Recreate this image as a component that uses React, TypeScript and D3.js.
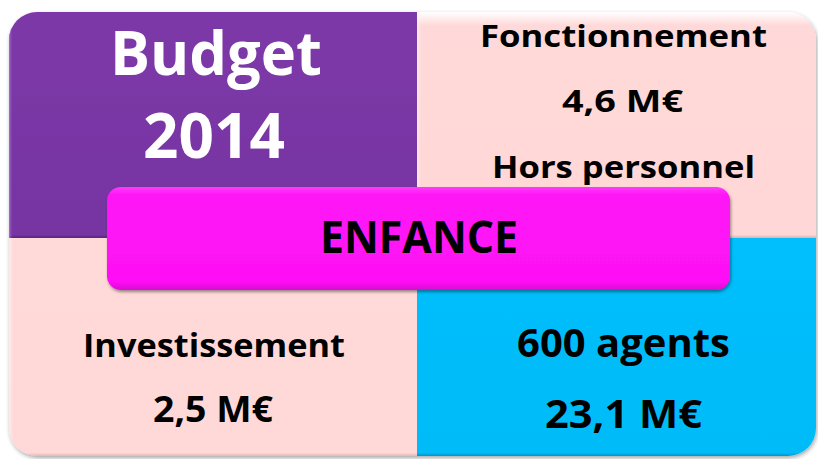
import React from "react";
import * as d3 from "d3";

// ---- data (text content) ----
const budgetLines = ["Budget", "2014"];
const fonctionnementLines = ["Fonctionnement", "4,6 M€", "Hors personnel"];
const investissementLines = ["Investissement", "2,5 M€"];
const personnelLines = ["600 agents", "23,1 M€"];
const centerLabel = "ENFANCE";

// ---- layout ----
const W = 818;
const H = 459;
const X0 = 9, XM = 417, X1 = 816;
const Y0 = 12, YM = 238, Y1 = 456;
const R = 28;

function roundedPath(x: number, y: number, w: number, h: number, r: [number, number, number, number]) {
  const [tl, tr, br, bl] = r;
  const p = d3.path();
  p.moveTo(x + tl, y);
  p.lineTo(x + w - tr, y);
  if (tr) p.arcTo(x + w, y, x + w, y + tr, tr);
  p.lineTo(x + w, y + h - br);
  if (br) p.arcTo(x + w, y + h, x + w - br, y + h, br);
  p.lineTo(x + bl, y + h);
  if (bl) p.arcTo(x, y + h, x, y + h - bl, bl);
  p.lineTo(x, y + tl);
  if (tl) p.arcTo(x, y, x + tl, y, tl);
  p.closePath();
  return p.toString();
}

type Line = { text: string; cx: number; base: number; size: number; width: number; fill: string };

const FONT = "'Open Sans', 'Noto Sans', sans-serif";

export default function App() {
  const tiles = [
    { key: "tl", x: X0, y: Y0, w: XM - X0, h: YM - Y0, r: [R, 0, 0, 0] as [number, number, number, number], fill: "url(#gPurple)", edge: "url(#gPurpleEdge)" },
    { key: "tr", x: XM, y: Y0, w: X1 - XM, h: YM - Y0, r: [0, R, 0, 0] as [number, number, number, number], fill: "url(#gPink)", edge: "url(#gPinkEdge)" },
    { key: "bl", x: X0, y: YM, w: XM - X0, h: Y1 - YM, r: [0, 0, 0, R] as [number, number, number, number], fill: "url(#gPink2)", edge: "url(#gPinkEdge)" },
    { key: "br", x: XM, y: YM, w: X1 - XM, h: Y1 - YM, r: [0, 0, R, 0] as [number, number, number, number], fill: "url(#gBlue)", edge: "url(#gBlueEdge)" },
  ];

  const lines: Line[] = [
    { text: budgetLines[0], cx: 216, base: 75, size: 60, width: 212, fill: "#ffffff" },
    { text: budgetLines[1], cx: 214, base: 158, size: 62, width: 142, fill: "#ffffff" },
    { text: fonctionnementLines[0], cx: 623.5, base: 47, size: 31, width: 287, fill: "#000" },
    { text: fonctionnementLines[1], cx: 622.5, base: 112, size: 31, width: 121, fill: "#000" },
    { text: fonctionnementLines[2], cx: 623.5, base: 178, size: 31, width: 263, fill: "#000" },
    { text: investissementLines[0], cx: 214, base: 357, size: 33, width: 262, fill: "#000" },
    { text: investissementLines[1], cx: 213, base: 422, size: 35, width: 120, fill: "#000" },
    { text: personnelLines[0], cx: 623.5, base: 357, size: 40, width: 213, fill: "#000" },
    { text: personnelLines[1], cx: 623.5, base: 428, size: 39, width: 157, fill: "#000" },
    { text: centerLabel, cx: 419, base: 253, size: 45, width: 198, fill: "#000" },
  ];

  return (
    <svg width={W} height={H} style={{ position: "absolute", left: 0, top: 0, display: "block" }}>
      <defs>
        <filter id="shadow" x="-5%" y="-5%" width="110%" height="115%">
          <feDropShadow dx="1" dy="2" stdDeviation="2" floodColor="#000" floodOpacity="0.35" />
        </filter>
        <filter id="shadowM" x="-5%" y="-10%" width="110%" height="130%">
          <feDropShadow dx="1" dy="2" stdDeviation="1.5" floodColor="#000" floodOpacity="0.4" />
        </filter>
        <linearGradient id="gPurple" x1="0" y1="0" x2="0" y2="1">
          <stop offset="0" stopColor="#7d39a8" />
          <stop offset="0.985" stopColor="#7634a2" />
          <stop offset="1" stopColor="#5a2680" />
        </linearGradient>
        <linearGradient id="gPurpleEdge" x1="0" y1="0" x2="1" y2="0">
          <stop offset="0" stopColor="#b07ad8" stopOpacity="0.9" />
          <stop offset="0.01" stopColor="#7d39a8" stopOpacity="0" />
          <stop offset="1" stopColor="#7d39a8" stopOpacity="0" />
        </linearGradient>
        <linearGradient id="gPink" x1="0" y1="0" x2="0" y2="1">
          <stop offset="0" stopColor="#ffffff" />
          <stop offset="0.06" stopColor="#ffd9d9" />
          <stop offset="0.985" stopColor="#ffd7d6" />
          <stop offset="1" stopColor="#d9b3b2" />
        </linearGradient>
        <linearGradient id="gPinkEdge" x1="0" y1="0" x2="1" y2="0">
          <stop offset="0" stopColor="#ffffff" stopOpacity="0.5" />
          <stop offset="0.01" stopColor="#ffffff" stopOpacity="0" />
          <stop offset="1" stopColor="#ffffff" stopOpacity="0" />
        </linearGradient>
        <linearGradient id="gPink2" x1="0" y1="0" x2="0" y2="1">
          <stop offset="0" stopColor="#ffdad8" />
          <stop offset="0.985" stopColor="#ffd8d7" />
          <stop offset="1" stopColor="#e0b8b7" />
        </linearGradient>
        <linearGradient id="gBlue" x1="0" y1="0" x2="0" y2="1">
          <stop offset="0" stopColor="#04bffc" />
          <stop offset="0.985" stopColor="#00bbf8" />
          <stop offset="1" stopColor="#0096c8" />
        </linearGradient>
        <linearGradient id="gBlueEdge" x1="0" y1="0" x2="1" y2="0">
          <stop offset="0" stopColor="#ffffff" stopOpacity="0" />
          <stop offset="1" stopColor="#ffffff" stopOpacity="0" />
        </linearGradient>
        <linearGradient id="gMag" x1="0" y1="0" x2="0" y2="1">
          <stop offset="0" stopColor="#ff3bfa" />
          <stop offset="0.08" stopColor="#ff16f7" />
          <stop offset="0.92" stopColor="#ff10f4" />
          <stop offset="1" stopColor="#d80ccf" />
        </linearGradient>
      </defs>
      <g filter="url(#shadow)">
        {tiles.map((t) => (
          <path key={t.key} d={roundedPath(t.x, t.y, t.w, t.h, t.r)} fill={t.fill} />
        ))}
      </g>
      {tiles.map((t) => (
        <path key={t.key + "e"} d={roundedPath(t.x, t.y, t.w, t.h, t.r)} fill={t.edge} />
      ))}
      <rect x={107} y={187} width={623} height={103} rx={14} ry={14} fill="url(#gMag)" filter="url(#shadowM)" />
      {lines.map((l, i) => (
        <text
          key={i}
          x={l.cx}
          y={l.base}
          textAnchor="middle"
          fontFamily={FONT}
          fontWeight={700}
          fontSize={l.size}
          fill={l.fill}
          textLength={l.width}
          lengthAdjust="spacingAndGlyphs"
        >
          {l.text}
        </text>
      ))}
    </svg>
  );
}
